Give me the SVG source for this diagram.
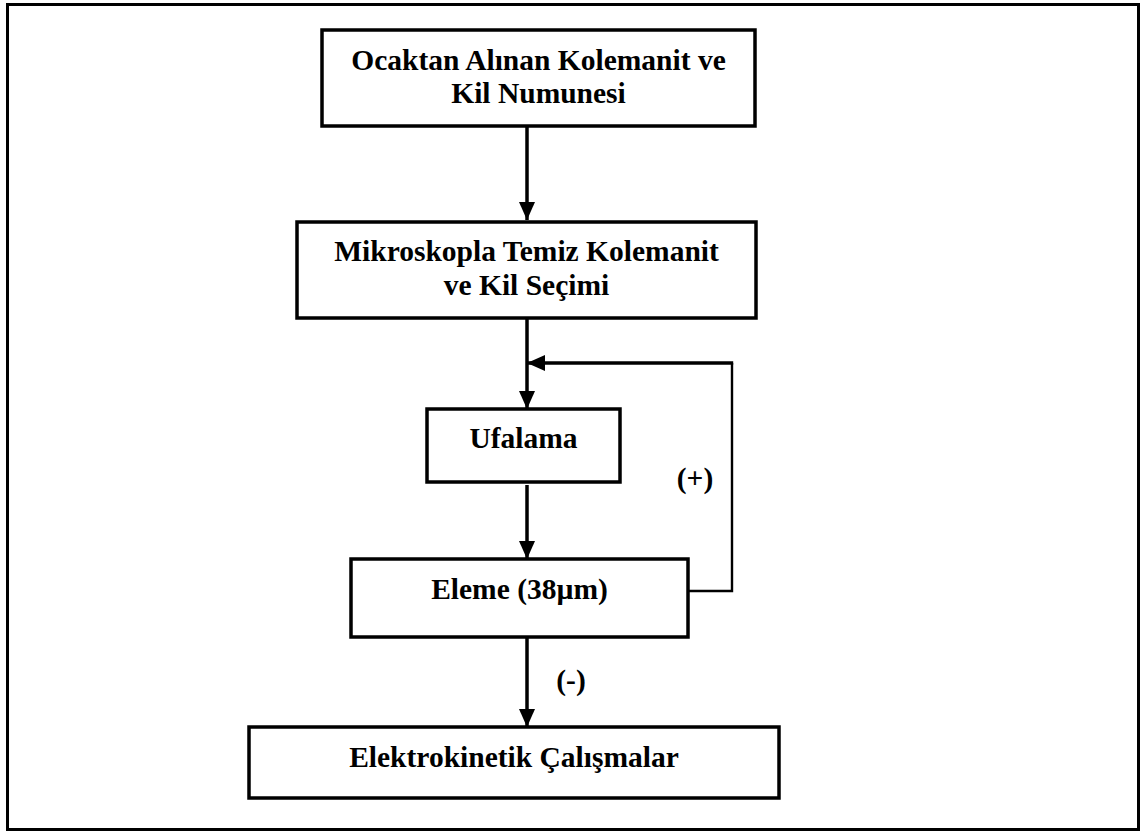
<svg xmlns="http://www.w3.org/2000/svg" width="1140" height="832" viewBox="0 0 1140 832">
<style>
.box{fill:#fff;stroke:#000;stroke-width:3.5}
.t{font-family:"Liberation Serif","Times New Roman",serif;font-weight:bold;font-size:29.5px;fill:#000;text-anchor:middle}
.c{fill:none;stroke:#000;stroke-width:3.5}
</style>
<defs>
<marker id="ah" markerUnits="userSpaceOnUse" markerWidth="18" markerHeight="18" viewBox="0 0 18 18" refX="18" refY="9" orient="auto">
<path d="M0,1 L18,9 L0,17 Z" fill="#000"/>
</marker>
</defs>
<rect x="7.5" y="4.5" width="1131" height="825" fill="#fff" stroke="#000" stroke-width="3"/>
<g id="connectors">
<line class="c" x1="527" y1="127" x2="527" y2="220" marker-end="url(#ah)"/>
<line class="c" x1="527" y1="318" x2="527" y2="409" marker-end="url(#ah)"/>
<line class="c" x1="527" y1="485" x2="527" y2="559" marker-end="url(#ah)"/>
<line class="c" x1="527" y1="637" x2="527" y2="727" marker-end="url(#ah)"/>
<polyline fill="none" stroke="#000" stroke-width="2.4" points="688,591 732,591 732,363"/>
<line class="c" x1="733.2" y1="363" x2="527" y2="363" marker-end="url(#ah)"/>
<text class="t" x="695" y="488">(+)</text>
<text class="t" x="571" y="690">(-)</text>
</g>
<g id="n1">
<rect class="box" x="322" y="30" width="433" height="96"/>
<text class="t" x="538.5" y="70">Ocaktan Alınan Kolemanit ve</text>
<text class="t" x="538.5" y="103">Kil Numunesi</text>
</g>
<g id="n2">
<rect class="box" x="297" y="222" width="459" height="96"/>
<text class="t" x="526.5" y="261">Mikroskopla Temiz Kolemanit</text>
<text class="t" x="526.5" y="295">ve Kil Seçimi</text>
</g>
<g id="n3">
<rect class="box" x="427" y="409" width="193" height="73"/>
<text class="t" x="523.5" y="448">Ufalama</text>
</g>
<g id="n4">
<rect class="box" x="351" y="559" width="337" height="78"/>
<text class="t" x="519.5" y="599">Eleme (38µm)</text>
</g>
<g id="n5">
<rect class="box" x="249" y="727" width="530" height="71"/>
<text class="t" x="514" y="767">Elektrokinetik Çalışmalar</text>
</g>
</svg>
